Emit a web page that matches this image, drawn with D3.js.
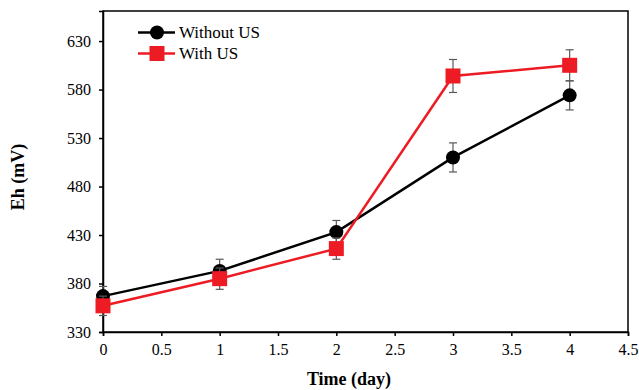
<!DOCTYPE html>
<html>
<head>
<meta charset="utf-8">
<script src="https://cdn.jsdelivr.net/npm/d3@7"></script>
<style>
  body { margin: 0; background: #fff; }
  text { font-family: "Liberation Serif", "Times New Roman", serif; }
</style>
</head>
<body>
<div id="chart"></div>
<script>
var days = [0, 1, 2, 3, 4];
var withoutUS = [367, 393, 433, 510, 574];
var withoutUSErr = [10, 12, 12, 15, 15];
var withUS = [357, 385, 416, 594, 605];
var withUSErr = [10, 11, 11, 17, 16];
var xTicks = [0, 0.5, 1, 1.5, 2, 2.5, 3, 3.5, 4, 4.5];
var yTicks = [330, 380, 430, 480, 530, 580, 630];

var width = 639, height = 390;
var margin = {left: 103, right: 11, top: 11, bottom: 58};

var svg = d3.select('#chart').append('svg')
  .attr('width', width)
  .attr('height', height);

var x = d3.scaleLinear().domain([0, 4.5]).range([margin.left, width - margin.right]);
var y = d3.scaleLinear().domain([330, 661]).range([height - margin.bottom, margin.top]);

// frame
svg.append('rect')
  .attr('x', x(0)).attr('y', y(661))
  .attr('width', x(4.5) - x(0)).attr('height', y(330) - y(661))
  .attr('fill', 'none').attr('stroke', '#000').attr('stroke-width', 1.5);

var xAxis = svg.append('g')
  .attr('transform', 'translate(0,' + y(330) + ')')
  .call(d3.axisBottom(x).tickValues(xTicks).tickSize(4).tickPadding(8).tickFormat(d3.format('')));
var yAxis = svg.append('g')
  .attr('transform', 'translate(' + x(0) + ',0)')
  .call(d3.axisLeft(y).tickValues(yTicks).tickSize(4).tickPadding(8));

[xAxis, yAxis].forEach(function(a) {
  a.attr('font-family', '"Liberation Serif", serif').attr('font-size', 16);
  a.select('.domain').attr('stroke', '#000').attr('stroke-width', 1.5);
  a.selectAll('.tick line').attr('stroke', '#000').attr('stroke-width', 1.5);
  a.selectAll('.tick text').attr('fill', '#000');
});

svg.append('text')
  .attr('x', 349).attr('y', 385)
  .attr('text-anchor', 'middle')
  .attr('font-size', 18).attr('font-weight', 'bold')
  .text('Time (day)');

svg.append('text')
  .attr('transform', 'translate(24,177) rotate(-90)')
  .attr('text-anchor', 'middle')
  .attr('font-size', 18).attr('font-weight', 'bold')
  .text('Eh (mV)');

var series = [
  {name: 'Without US', values: withoutUS, err: withoutUSErr, color: '#000', shape: 'circle'},
  {name: 'With US', values: withUS, err: withUSErr, color: '#ed1c24', shape: 'square'}
];

var line = d3.line()
  .x(function(d) { return x(d.day); })
  .y(function(d) { return y(d.v); });

function drawMarker(g, shape, color, cx, cy) {
  if (shape === 'circle') {
    g.append('circle').attr('cx', cx).attr('cy', cy).attr('r', 7).attr('fill', color);
  } else {
    g.append('rect').attr('x', cx - 7.5).attr('y', cy - 7.5)
      .attr('width', 15).attr('height', 15).attr('fill', color);
  }
}

series.forEach(function(s) {
  var pts = days.map(function(d, i) { return {day: d, v: s.values[i], e: s.err[i]}; });
  var g = svg.append('g');

  g.append('path')
    .attr('d', line(pts))
    .attr('fill', 'none')
    .attr('stroke', s.color)
    .attr('stroke-width', 2.5);

  pts.forEach(function(p) {
    var cx = x(p.day);
    g.append('line')
      .attr('x1', cx).attr('x2', cx)
      .attr('y1', y(p.v - p.e)).attr('y2', y(p.v + p.e))
      .attr('stroke', '#595959').attr('stroke-width', 1.2);
    [p.v - p.e, p.v + p.e].forEach(function(v) {
      g.append('line')
        .attr('x1', cx - 4).attr('x2', cx + 4)
        .attr('y1', y(v)).attr('y2', y(v))
        .attr('stroke', '#595959').attr('stroke-width', 1.2);
    });
  });

  pts.forEach(function(p) {
    drawMarker(g, s.shape, s.color, x(p.day), y(p.v));
  });
});

// legend
var legend = svg.append('g');
series.forEach(function(s, i) {
  var ly = 32.5 + i * 21;
  legend.append('line')
    .attr('x1', 138).attr('x2', 175)
    .attr('y1', ly).attr('y2', ly)
    .attr('stroke', s.color).attr('stroke-width', 2.5);
  drawMarker(legend, s.shape, s.color, 157, ly);
  legend.append('text')
    .attr('x', 179).attr('y', ly + 5.5)
    .attr('font-size', 17)
    .text(s.name);
});
</script>
</body>
</html>
